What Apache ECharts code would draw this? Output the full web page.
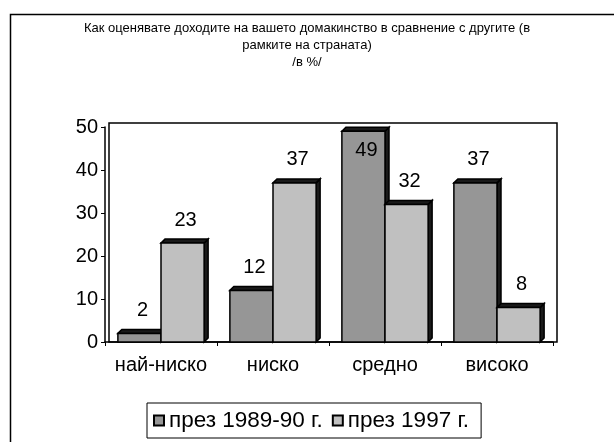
<!DOCTYPE html>
<html><head><meta charset="utf-8">
<script src="https://cdn.jsdelivr.net/npm/echarts@6/dist/echarts.min.js"></script>
<style>html,body{margin:0;padding:0;background:#fff}#c{width:614px;height:442px}</style>
</head><body><div id="c"></div>
<script>
const categories = ['най-ниско', 'ниско', 'средно', 'високо'];
const seriesNames = ['през 1989-90 г.', 'през 1997 г.'];
const values8990 = [2, 12, 49, 37];
const values1997 = [23, 37, 32, 8];
const yMin = 0, yMax = 50, yInterval = 10;
const titleLines = ['Как оценявате доходите на вашето домакинство в сравнение с другите (в', 'рамките на страната)', '/в %/'];

const FONT = "'Liberation Sans', Arial, sans-serif";
const colors = ['#969696', '#c0c0c0'];
const DEPTH = 4;

function makeRender(sIdx) {
  return function (params, api) {
    const cat = api.value(0), val = api.value(1);
    const base = api.coord([cat, 0]);
    const top = api.coord([cat, val]);
    const cw = api.size([1, 0])[0];
    const bw = cw * 0.385;
    const x0 = sIdx === 0 ? base[0] - bw : base[0];
    const x1 = x0 + bw;
    const yb = base[1], yt = top[1];
    const d = DEPTH;
    const gridTop = params.coordSys.y;
    let ly = yt - 23;
    if (ly < gridTop + 23) ly = gridTop + 23;
    return {
      type: 'group', children: [
        { type: 'polygon', shape: { points: [[x1, yb], [x1 + d, yb - d], [x1 + d, yt - d], [x1, yt]] }, style: { fill: '#1a1a1a', stroke: '#000', lineWidth: 1.5 } },
        { type: 'polygon', shape: { points: [[x0, yt], [x0 + d, yt - d], [x1 + d, yt - d], [x1, yt]] }, style: { fill: '#1a1a1a', stroke: '#000', lineWidth: 1.5 } },
        { type: 'rect', shape: { x: x0, y: yt, width: bw, height: yb - yt }, style: { fill: colors[sIdx], stroke: '#000', lineWidth: 1.5 } },
        { type: 'text', x: (x0 + x1) / 2 + 3, y: ly, style: { text: String(val), fill: '#000', fontSize: 20, fontFamily: FONT, align: 'center', verticalAlign: 'middle' } }
      ]
    };
  };
}

const chart = echarts.init(document.getElementById('c'), null, { renderer: 'canvas' });
chart.setOption({
  animation: false,
  backgroundColor: '#fff',
  textStyle: { fontFamily: FONT },
  title: {
    text: titleLines.join('\n'),
    left: 'center', top: 15,
    textStyle: { fontSize: 13, fontWeight: 'normal', color: '#000', lineHeight: 17, fontFamily: FONT, align: 'center' }
  },
  graphic: [
    { type: 'rect', left: 8, top: 12, z: -10, shape: { width: 800, height: 600 }, style: { fill: 'none', stroke: '#000', lineWidth: 1.5 } }
  ],
  legend: {
    left: 147, top: 403,
    data: seriesNames,
    icon: 'rect', itemWidth: 10, itemHeight: 10, itemGap: 9,
    padding: [6, 12, 6, 6],
    borderColor: '#000', borderWidth: 1,
    textStyle: { fontSize: 22.5, color: '#000', fontFamily: FONT }
  },
  grid: [
    { left: 105, right: 61, top: 127, bottom: 100, show: false },
    { left: 109, right: 57, top: 123, bottom: 100, show: true, borderColor: '#000', borderWidth: 1.5, backgroundColor: 'transparent' }
  ],
  xAxis: [
    {
      type: 'category', data: categories, gridIndex: 0,
      axisLine: { lineStyle: { color: '#000', width: 1.5 } },
      axisTick: { show: true, length: 4, lineStyle: { color: '#000' } },
      axisLabel: { fontSize: 20, color: '#000', margin: 13, interval: 0, fontFamily: FONT }
    },
    { type: 'category', data: categories, gridIndex: 1, show: false }
  ],
  yAxis: [
    {
      type: 'value', min: yMin, max: yMax, interval: yInterval, gridIndex: 0,
      axisLine: { show: true, lineStyle: { color: '#000', width: 1.5 } },
      axisTick: { show: true, length: 4, lineStyle: { color: '#000' } },
      splitLine: { show: false },
      axisLabel: { fontSize: 20, color: '#000', margin: 7, fontFamily: FONT }
    },
    { type: 'value', min: yMin, max: yMax, gridIndex: 1, show: false, splitLine: { show: false } }
  ],
  series: [
    {
      type: 'custom', name: seriesNames[0], xAxisIndex: 0, yAxisIndex: 0,
      itemStyle: { color: colors[0], borderColor: '#000', borderWidth: 1.5 },
      renderItem: makeRender(0),
      data: values8990.map((v, i) => [i, v]), z: 2
    },
    {
      type: 'custom', name: seriesNames[1], xAxisIndex: 0, yAxisIndex: 0,
      itemStyle: { color: colors[1], borderColor: '#000', borderWidth: 1.5 },
      renderItem: makeRender(1),
      data: values1997.map((v, i) => [i, v]), z: 3
    }
  ]
});
</script>
</body></html>
